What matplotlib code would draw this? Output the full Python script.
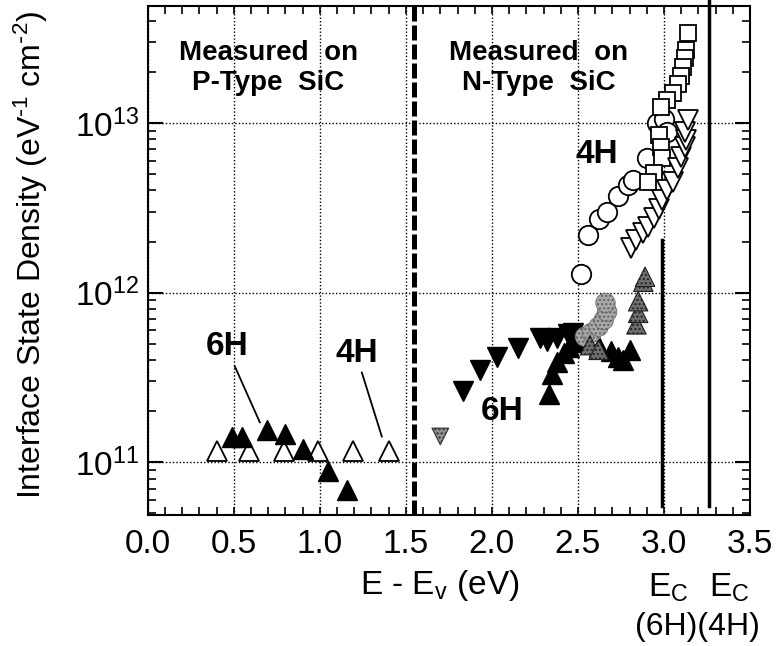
import numpy as np
import matplotlib
matplotlib.use('Agg')
import matplotlib.pyplot as plt
from matplotlib.ticker import MultipleLocator, FuncFormatter, LogLocator

plt.rcParams['font.family'] = 'Liberation Sans'
plt.rcParams['mathtext.default'] = 'regular'

# p-Typ: 4H offen, 6H gefuellt
p4h_x = [0.40, 0.59, 0.79, 0.99, 1.19, 1.40]
p4h_y = [1.16e11, 1.16e11, 1.16e11, 1.16e11, 1.16e11, 1.16e11]
p6h_x = [0.49, 0.55, 0.69, 0.80, 0.90, 1.05, 1.16]
p6h_y = [1.40e11, 1.40e11, 1.56e11, 1.46e11, 1.19e11, 8.9e10, 6.9e10]

# n-Typ 4H
sq4h_x = [3.14, 3.13, 3.12, 3.11, 3.10, 3.08, 3.05, 3.02, 2.98, 2.97, 2.98, 2.99, 2.94, 2.91]
sq4h_y = [3.4e13, 2.7e13, 2.4e13, 2.15e13, 1.9e13, 1.7e13, 1.5e13, 1.37e13, 1.24e13,
          8.5e12, 7.2e12, 6.2e12, 5.1e12, 4.5e12]
ci4h_x = [2.52, 2.56, 2.62, 2.67, 2.73, 2.79, 2.82, 2.90, 2.96, 3.00, 3.02]
ci4h_y = [1.28e12, 2.2e12, 2.7e12, 3.0e12, 3.7e12, 4.3e12, 4.6e12, 6.2e12, 1.0e13, 1.05e13, 8.8e12]
dt4h_x = [2.81, 2.84, 2.88, 2.91, 2.94, 2.97, 2.99, 3.02, 3.05, 3.08, 3.10, 3.12, 3.13, 3.12, 3.14]
dt4h_y = [1.84e12, 2.05e12, 2.24e12, 2.45e12, 2.76e12, 3.1e12, 3.5e12, 4.0e12, 4.5e12,
          5.4e12, 6.3e12, 7.2e12, 7.9e12, 8.8e12, 1.04e13]

# n-Typ 6H
dt6h_x = [1.83, 1.93, 2.03, 2.15, 2.28, 2.32, 2.38, 2.44, 2.47]
dt6h_y = [2.62e11, 3.52e11, 4.15e11, 4.74e11, 5.43e11, 5.2e11, 5.4e11, 5.7e11, 5.8e11]
ut6h_x = [2.33, 2.35, 2.38, 2.42, 2.45, 2.49, 2.53, 2.62, 2.69, 2.73, 2.76, 2.80]
ut6h_y = [2.51e11, 3.3e11, 3.9e11, 4.4e11, 4.8e11, 5.1e11, 5.4e11, 4.75e11, 4.5e11,
          4.15e11, 4.0e11, 4.6e11]
grau_dt_x = [1.70]
grau_dt_y = [1.42e11]
grau_ci_x = [2.54, 2.58, 2.62, 2.65, 2.67, 2.66]
grau_ci_y = [5.5e11, 5.8e11, 6.3e11, 6.9e11, 7.7e11, 8.7e11]
grau_ut_x = [2.57, 2.62, 2.84, 2.85, 2.85, 2.88, 2.89]
grau_ut_y = [4.9e11, 4.6e11, 6.5e11, 7.6e11, 8.9e11, 1.16e12, 1.24e12]

# Grenzen / Bandkanten
grenze_pn = 1.55
ec_6h = 2.99
ec_4h = 3.26

fig = plt.figure(figsize=(7.78, 6.46), dpi=100)
ax = fig.add_axes([0.190, 0.203, 0.774, 0.788])
ax.set_yscale('log')
ax.set_xlim(0.0, 3.5)
ax.set_ylim(4.9e10, 4.9e13)

ax.grid(True, which='major', color='black', linestyle=(0, (1, 1.5)), linewidth=1.0)
ax.set_axisbelow(True)

ms = 14
kw_offen = dict(linestyle='none', markerfacecolor='white', markeredgecolor='black',
                markeredgewidth=1.3, zorder=3)
kw_voll = dict(linestyle='none', color='black', zorder=3)

ax.plot(p4h_x, p4h_y, '^', markersize=ms, **kw_offen)
ax.plot(p6h_x, p6h_y, '^', markersize=ms, **kw_voll)

ax.plot(ci4h_x, ci4h_y, 'o', markersize=ms, **kw_offen)
ax.plot(sq4h_x, sq4h_y, 's', markersize=12, **kw_offen)
ax.plot(dt4h_x, dt4h_y, 'v', markersize=ms, **kw_offen)

ax.plot(dt6h_x, dt6h_y, 'v', markersize=ms, **kw_voll)
ax.plot(ut6h_x, ut6h_y, '^', markersize=ms, **kw_voll)

ax.scatter(grau_ci_x, grau_ci_y, s=ms**2, marker='o', facecolor='#a8a8a8',
           edgecolor='#606060', hatch='....', linewidth=0.5, zorder=4)
ax.scatter(grau_ut_x, grau_ut_y, s=ms**2, marker='^', facecolor='#707070',
           edgecolor='#202020', hatch='....', linewidth=0.8, zorder=4)
ax.scatter(grau_dt_x, grau_dt_y, s=(ms - 2)**2, marker='v', facecolor='#909090',
           edgecolor='#303030', hatch='....', linewidth=0.8, zorder=4)

# Trennlinie p/n und Leitungsbandkanten
ax.axvline(grenze_pn, color='black', linewidth=3.6, linestyle=(0, (3, 0.8)), zorder=2)
ax.plot([ec_6h, ec_6h], [5.5e10, 2.05e12], color='black', linewidth=2.5, zorder=2)
ax.plot([ec_4h, ec_4h], [5.5e10, 5.3e13], color='black', linewidth=2.5, zorder=2,
        clip_on=False)

# Beschriftungen im Diagramm
fett = dict(fontsize=20, fontweight='bold', ha='center', va='center')
ax.text(0.70, 2.1e13, 'Measured  on\nP-Type  SiC', linespacing=1.2, **fett)
ax.text(2.27, 2.1e13, 'Measured  on\nN-Type  SiC', linespacing=1.2, **fett)

gr = dict(fontsize=24, fontweight='bold', ha='center', va='center')
ax.text(0.46, 4.8e11, '6H', **gr)
ax.text(1.215, 4.4e11, '4H', **gr)
ax.text(2.61, 6.5e12, '4H', **gr)
ax.text(2.06, 2.0e11, '6H', **gr)
ax.plot([0.506, 0.651], [3.67e11, 1.72e11], color='black', linewidth=1.3)
ax.plot([1.244, 1.36], [3.38e11, 1.42e11], color='black', linewidth=1.3)

# Achsen
ax.xaxis.set_major_locator(MultipleLocator(0.5))
ax.xaxis.set_minor_locator(MultipleLocator(0.1))
ax.xaxis.set_major_formatter(FuncFormatter(lambda v, _: '%.1f' % v))
ax.yaxis.set_major_locator(LogLocator(base=10))
ax.yaxis.set_minor_locator(LogLocator(base=10, subs=np.arange(2, 10)))
ax.yaxis.set_major_formatter(FuncFormatter(lambda v, _: r'$10^{%d}$' % round(np.log10(v))))

ax.tick_params(axis='x', which='both', direction='in', top=True, length=6, width=1.2,
               labelsize=24, pad=10)
ax.tick_params(axis='y', which='major', direction='in', right=True, length=11, width=1.5,
               labelsize=24, pad=6)
ax.tick_params(axis='y', which='minor', direction='in', right=True, length=6, width=1.2)
for s in ax.spines.values():
    s.set_linewidth(1.5)

ax.set_xlabel(r'E - E$_v$ (eV)', fontsize=24)
ax.xaxis.set_label_coords(0.485, -0.105)
ax.set_ylabel(r'Interface State Density (eV$^{\text{-}1}$ cm$^{\text{-}2}$)', fontsize=23)
ax.yaxis.set_label_coords(-0.163, 0.51)

fig.text(668 / 778, 1 - 588 / 646, r'E$_C$', fontsize=24, ha='center', va='center')
fig.text(729 / 778, 1 - 588 / 646, r'E$_C$', fontsize=24, ha='center', va='center')
fig.text(697 / 778, 1 - 627 / 646, '(6H)(4H)', fontsize=23, ha='center', va='center')

fig.savefig('out.png', dpi=100)
